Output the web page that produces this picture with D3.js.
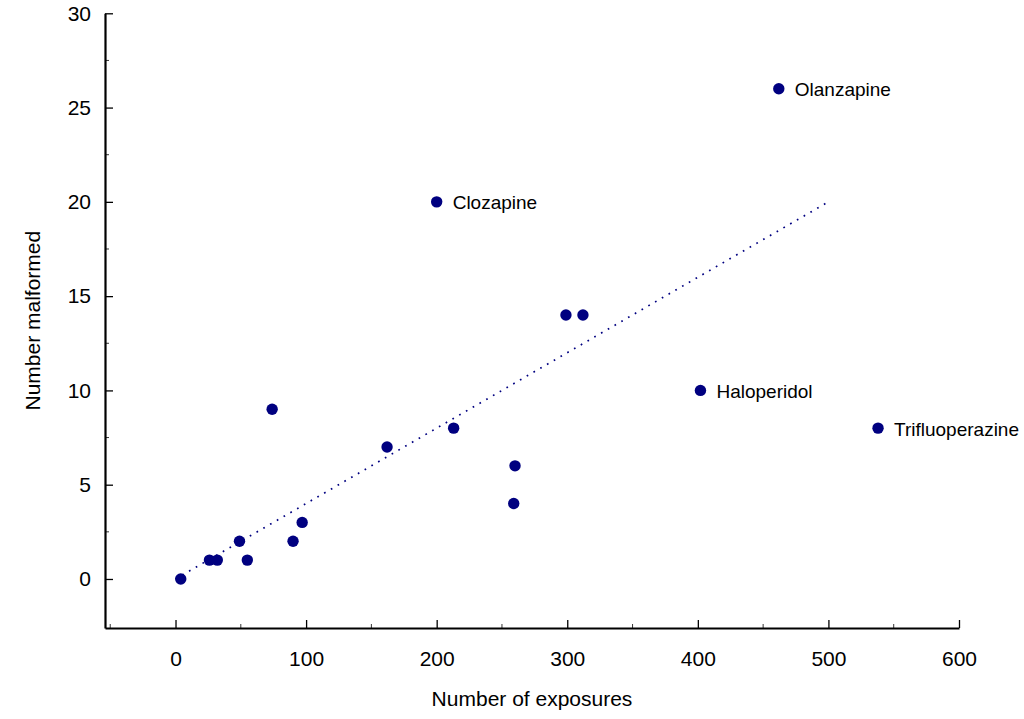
<!DOCTYPE html>
<html>
<head>
<meta charset="utf-8">
<script src="https://cdn.jsdelivr.net/npm/d3@7"></script>
<style>
  body{margin:0;background:#fff;}
  svg{font-family:"Liberation Sans",Arial,sans-serif;}
</style>
</head>
<body>
<svg id="canvas" width="1024" height="719"></svg>
<script>
// exposures / malformed
const exposures=[4,26,32,49,55,74,90,97,162,200,213,260,259,299,312,402,462,538]
const malformed=[0,1,1,2,1,9,2,3,7,20,8,6,4,14,14,10,26,8]
const names=["","","","","","","","","","Clozapine","","","","","","Haloperidol","Olanzapine","Trifluoperazine"]
const trendX=[0,500]
const trendY=[0,20]
const xTicks=[0,100,200,300,400,500,600]
const xMinor=[-50,50,150,250,350,450,550]
const yTicks=[0,5,10,15,20,25,30]
const yMinor=[2.5,7.5,12.5,17.5,22.5,27.5]

let canvas=d3.select("#canvas")
const navy="#000080"

let x=d3.scaleLinear().domain([-54,600]).range([105,959])
let y=d3.scaleLinear().domain([-2.6,30]).range([628,13.3])

// x axis, ticks pointing up
let xAxis=d3.axisBottom(x).tickValues(xTicks).tickSizeInner(-8).tickSizeOuter(0).tickPadding(23)
let gx=canvas.append("g").attr("transform",`translate(0,${y(-2.6)})`).call(xAxis)
gx.selectAll(".tick line").attr("stroke-width",1.3)
gx.selectAll(".tick text").style("font-size","21px").attr("fill","#000")
gx.select(".domain").attr("stroke-width",2.2)
gx.selectAll(".minor").data(xMinor).enter().append("line")
    .attr("x1",d=>x(d)).attr("x2",d=>x(d))
    .attr("y1",0).attr("y2",-4)
    .attr("stroke","#000").attr("stroke-width",0.8)

// y axis, ticks pointing right
let yAxis=d3.axisLeft(y).tickValues(yTicks).tickSizeInner(-8).tickSizeOuter(0).tickPadding(14)
let gy=canvas.append("g").attr("transform",`translate(${x(-54)},0)`).call(yAxis)
gy.selectAll(".tick line").attr("stroke-width",1.3)
gy.selectAll(".tick text").style("font-size","21px").attr("fill","#000")
gy.select(".domain").attr("stroke-width",2.2)
gy.selectAll(".minor").data(yMinor).enter().append("line")
    .attr("y1",d=>y(d)).attr("y2",d=>y(d))
    .attr("x1",0).attr("x2",4)
    .attr("stroke","#000").attr("stroke-width",0.8)

// axis titles
canvas.append("text")
    .attr("x",(x(-54)+x(600))/2).attr("y",706)
    .attr("text-anchor","middle")
    .style("font-size","21px")
    .text("Number of exposures")
canvas.append("text")
    .attr("transform",`translate(40,${(y(-2.6)+y(30))/2}) rotate(-90)`)
    .attr("text-anchor","middle")
    .style("font-size","21px")
    .text("Number malformed")

// trend line
const trend=trendX.map((d,i)=>[d,trendY[i]])
canvas.append("path")
    .datum(trend)
    .attr("d",d3.line().x(d=>x(d[0])).y(d=>y(d[1])))
    .attr("fill","none")
    .attr("stroke",navy)
    .attr("stroke-width",1.7)
    .attr("stroke-dasharray","1.7 6.1")

// points
const pts=exposures.map((d,i)=>({x:d,y:malformed[i],name:names[i]}))
canvas.selectAll("circle").data(pts).enter().append("circle")
    .attr("cx",d=>x(d.x)).attr("cy",d=>y(d.y))
    .attr("r",5.7)
    .attr("fill",navy)

canvas.selectAll(".lbl").data(pts.filter(d=>d.name!=="")).enter().append("text")
    .attr("class","lbl")
    .attr("x",d=>x(d.x)+16)
    .attr("y",d=>y(d.y)+7.5)
    .style("font-size","19px")
    .text(d=>d.name)
</script>
</body>
</html>
